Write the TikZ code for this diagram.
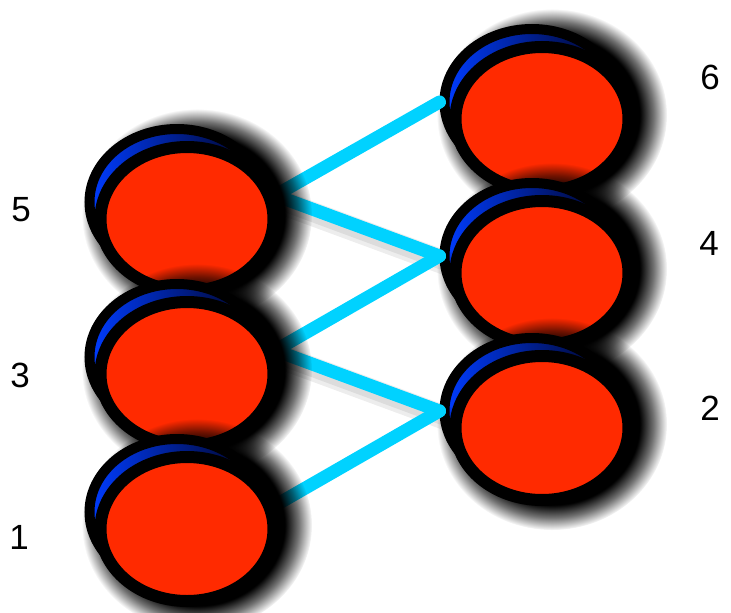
\documentclass[tikz,border=0pt]{standalone}
\usepackage{fontspec}
\setmainfont{Liberation Sans}
\usetikzlibrary{shapes.geometric,fadings}
\definecolor{discred}{RGB}{255,42,0}
\definecolor{discblue}{RGB}{0,60,255}
\definecolor{linkcyan}{RGB}{0,210,255}
\pgfdeclareradialshading{shadowshade}{\pgfpointorigin}{color(0bp)=(pgftransparent!0);
  color(19bp)=(pgftransparent!0); color(22bp)=(pgftransparent!45);
  color(25bp)=(pgftransparent!100); color(50bp)=(pgftransparent!100)}
\pgfdeclarefading{shadowfade}{\pgfuseshading{shadowshade}}
\pgfdeclarelayer{lower}
\pgfdeclarelayer{links}
\pgfsetlayers{lower,links,main}
% one disc: soft shadow, blue rim behind, red face in front
\newcommand{\disc}[3]{%
  \fill[black, path fading=shadowfade, fit fading=true]
    (#2+10,#3-4) ellipse[x radius=115, y radius=106];
  \node[rim] (#1b) at (#2-10,#3-17) {};
  \node[face] (#1) at (#2,#3) {};
}
\begin{document}
\begin{tikzpicture}[x=1pt, y=-1pt,
  face/.style={ellipse, draw=black, line width=12pt, fill=discred,
    minimum width=173pt, minimum height=144pt, inner sep=0pt},
  rim/.style={ellipse, draw=black, line width=10pt, left color=discblue,
    middle color=discblue!75!black, right color=black!90!blue,
    minimum width=175pt, minimum height=146pt, inner sep=0pt},
  link/.style={draw=linkcyan, line width=13pt, line cap=round},
  linkshade/.style={draw=black, opacity=0.07, line cap=round,
    transform canvas={xshift=6pt, yshift=-7pt}},
  num/.style={font=\fontsize{35}{35}\selectfont, inner sep=0pt}]
  \useasboundingbox (0,0) rectangle (731,613);
  % left column
  \disc{n5}{187}{219}
  \disc{n3}{187}{374}
  \disc{n1}{187}{529}
  % right column, under the links
  \begin{pgfonlayer}{lower}
    \disc{n6}{542}{119}
    \disc{n4}{542}{273}
    \disc{n2}{542}{428}
  \end{pgfonlayer}
  \begin{pgfonlayer}{links}
    \draw[linkshade, line width=24pt] (n5.15) -- (n4b.west);
    \draw[linkshade, line width=16pt] (n5.15) -- (n4b.west);
    \draw[linkshade, line width=24pt] (n3.15) -- (n2b.west);
    \draw[linkshade, line width=16pt] (n3.15) -- (n2b.west);
    \draw[link] (n5.15) -- (n6b.west);
    \draw[link] (n5.15) -- (n4b.west);
    \draw[link] (n3.15) -- (n4b.west);
    \draw[link] (n3.15) -- (n2b.west);
    \draw[link] (n1.15) -- (n2b.west);
  \end{pgfonlayer}
  \node[num] (l5) at (21,210) {5};
  \node[num] (l3) at (20,375) {3};
  \node[num] (l1) at (19,537) {1};
  \node[num] (l6) at (710,77) {6};
  \node[num] (l4) at (709,243) {4};
  \node[num] (l2) at (710,408) {2};
\end{tikzpicture}
\end{document}
